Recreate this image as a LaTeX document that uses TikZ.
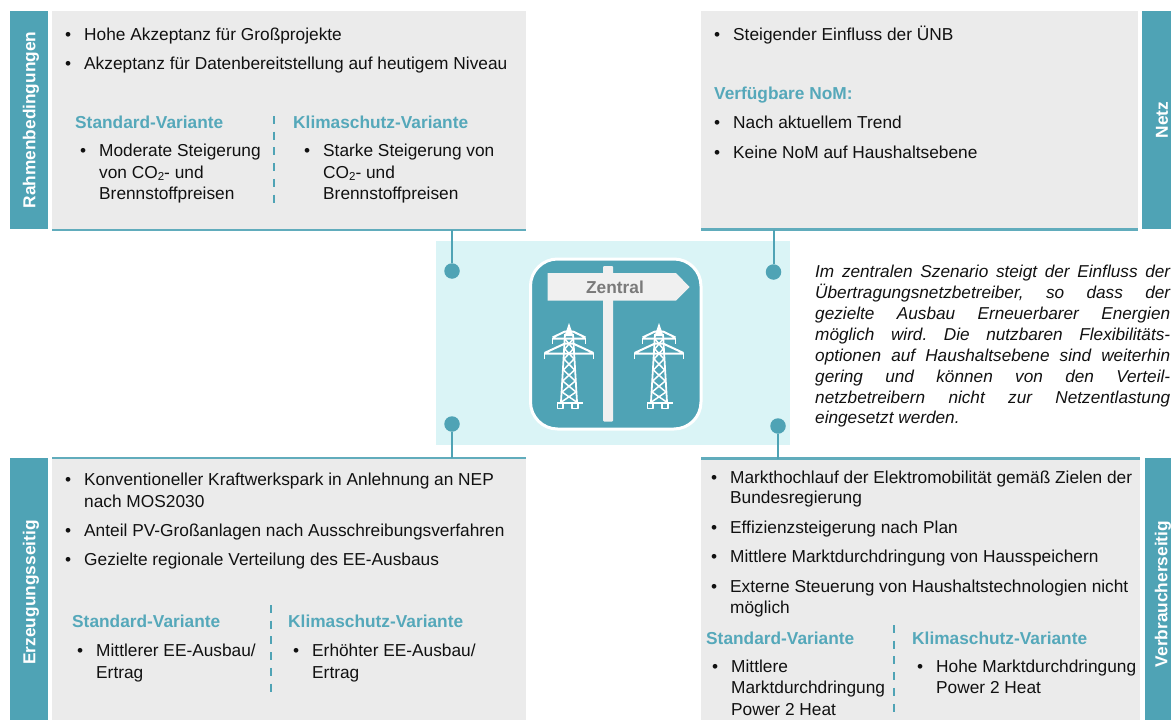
\documentclass[tikz,border=0pt]{standalone}
\usepackage{fontspec}
\setmainfont{Liberation Sans}
\frenchspacing
\definecolor{teal1}{HTML}{4FA3B5}
\definecolor{head1}{HTML}{55A8BA}
\definecolor{panel1}{HTML}{EBEBEB}
\definecolor{centre1}{HTML}{DAF4F6}
\definecolor{sign1}{HTML}{F0F0F0}
\definecolor{txt1}{HTML}{111111}
\tikzset{
  panelbox/.style={fill=panel1,draw=none,anchor=north west,inner sep=0pt,outer sep=0pt},
  tabbox/.style={fill=teal1,draw=none,anchor=north west,inner sep=0pt,outer sep=0pt},
  tablabel/.style={text=white,font=\fontsize{17.3}{20}\selectfont\bfseries,rotate=90,inner sep=0pt},
  body/.style={text=txt1,font=\fontsize{17.3}{20}\selectfont,anchor=base west,inner sep=0pt},
  headline/.style={text=head1,font=\fontsize{17.3}{20}\selectfont\bfseries,anchor=base west,inner sep=0pt},
  rulel/.style={teal1!90!white,line width=2.2pt},
  stem/.style={teal1,line width=2pt},
  dotn/.style={circle,fill=teal1,minimum size=15.5pt,inner sep=0pt,outer sep=0pt},
  divider/.style={teal1,line width=2pt,dash pattern=on 8pt off 7.7pt},
  tower/.style={white,line width=1.5pt,line join=round},
}
\newcommand{\tl}[4][body]{\node[#1] at (#2,#3+6) {#4};}
\newcommand{\bl}[3]{\node[body] at (#1,#2+6) {•};\node[body] at (#1+19,#2+6) {#3};}
\newcommand{\subtwo}{\raisebox{-2.8pt}{\fontsize{11.5}{12}\selectfont 2}}
\newcommand{\towerpic}[1]{%
\begin{scope}[shift={(#1,0)},tower]
 \fill[white] (0,323) -- (-4.5,336) -- (4.5,336) -- cycle;
 \draw[line width=1.8pt] (-4,334) -- (-8,402) (4,334) -- (8,402);
 \draw (-4,339) -- (4.2,349) -- (-5,359) -- (5.6,370) -- (-6.3,381) -- (7,392) -- (-7.6,402)
       (4,339) -- (-4.2,349) -- (5,359) -- (-5.6,370) -- (6.3,381) -- (-7,392) -- (7.6,402);
 \draw[line width=2pt] (-16.5,337.5) -- (-4,331.5) -- (4,331.5) -- (16.5,337.5) (-16.5,338.5) -- (16.5,338.5);
 \draw[line width=1.6pt] (-16.5,337.5) -- (-16.5,343.5) (16.5,337.5) -- (16.5,343.5);
 \draw[line width=2pt] (-24.5,353) -- (-4,343.5) -- (4,343.5) -- (24.5,353) (-24.5,353.5) -- (24.5,353.5);
 \draw[line width=1.6pt] (-24.5,353) -- (-24.5,359) (24.5,353) -- (24.5,359);
 \draw[line width=2pt] (-12,402.5) -- (14,402.5);
 \draw[line width=1.6pt] (-11.5,402) -- (-11.5,408.5) -- (-6,408.5) -- (-6,402) (3,402) -- (3,408.5) -- (9,408.5) -- (9,402);
\end{scope}}
\begin{document}
\begin{tikzpicture}[x=1pt,y=-1pt]
\useasboundingbox (0,0) rectangle (1171,720);
% central band
\node[panelbox,fill=centre1,minimum width=354pt,minimum height=204pt] (centre) at (436,241) {};
% panels
\node[panelbox,minimum width=474pt,minimum height=219pt] (ptl) at (52,11) {};
\node[panelbox,minimum width=437pt,minimum height=218.5pt] (ptr) at (701,11) {};
\node[panelbox,minimum width=474pt,minimum height=262pt] (pbl) at (52,458) {};
\node[panelbox,minimum width=439pt,minimum height=261.5pt] (pbr) at (701,458.5) {};
\draw[rulel] (ptl.south west) -- (ptl.south east);
\draw[rulel] (ptr.south west) -- (ptr.south east);
\draw[rulel] (pbl.north west) -- (pbl.north east);
\draw[rulel] (pbr.north west) -- (pbr.north east);
% tabs
\node[tabbox,minimum width=38pt,minimum height=218pt] (ttl) at (10,11) {};
\node[tabbox,minimum width=29pt,minimum height=218pt] (ttr) at (1142,11) {};
\node[tabbox,minimum width=38pt,minimum height=262pt] (tbl) at (10,458) {};
\node[tabbox,minimum width=26pt,minimum height=262pt] (tbr) at (1145,458) {};
\node[tablabel] (lr) at (31,120) {Rahmenbedingungen};
\node[tablabel] (ln) at (1162,120) {Netz};
\node[tablabel] (le) at (31,592.5) {Erzeugungsseitig};
\node[tablabel] (lv) at (1163,594) {Verbraucherseitig};
% dots and stems
\node[dotn] (d1) at (452,271) {};
\node[dotn] (d2) at (773.5,272) {};
\node[dotn] (d3) at (452,424) {};
\node[dotn] (d4) at (778,426) {};
\draw[stem] (ptl.south -| d1) -- (d1);
\draw[stem] (ptr.south -| d2) -- (d2);
\draw[stem] (pbl.north -| d3) -- (d3);
\draw[stem] (pbr.north -| d4) -- (d4);
% icon
\draw[fill=teal1,draw=white,line width=3pt,rounded corners=27pt] (530.5,259) rectangle (701,429);
\fill[sign1,rounded corners=1pt] (603,266) rectangle (613,421.5);
\fill[sign1] (547.5,273) -- (676,273) -- (689.5,287) -- (676,300.5) -- (547.5,300.5) -- cycle;
\node[text=black!52,font=\fontsize{17.3}{20}\selectfont\bfseries,inner sep=0pt] (zt) at (615,287.5) {Zentral};
\towerpic{569}
\towerpic{659}
% dividers
\draw[divider] (274,116) -- (274,204);
\draw[divider] (271,605) -- (271,695);
\draw[divider] (894,625) -- (894,713);
% top left
\bl{65}{34}{Hohe Akzeptanz für Großprojekte}
\bl{65}{63}{Akzeptanz für Datenbereitstellung auf heutigem Niveau}
\tl[headline]{75}{122}{Standard-Variante}
\tl[headline]{293}{122}{Klimaschutz-Variante}
\bl{80}{150}{Moderate Steigerung}
\tl{99}{172}{von CO\subtwo- und}
\tl{99}{193}{Brennstoffpreisen}
\bl{304}{150}{Starke Steigerung von}
\tl{323}{172}{CO\subtwo- und}
\tl{323}{193}{Brennstoffpreisen}
% top right
\bl{714}{34}{Steigender Einfluss der ÜNB}
\tl[headline]{714}{93}{Verfügbare NoM:}
\bl{714}{122}{Nach aktuellem Trend}
\bl{714}{152}{Keine NoM auf Haushaltsebene}
% bottom left
\bl{65}{479}{Konventioneller Kraftwerkspark in Anlehnung an NEP}
\tl{84}{501}{nach MOS2030}
\bl{65}{530}{Anteil PV-Großanlagen nach Ausschreibungsverfahren}
\bl{65}{559}{Gezielte regionale Verteilung des EE-Ausbaus}
\tl[headline]{72}{621}{Standard-Variante}
\tl[headline]{288}{621}{Klimaschutz-Variante}
\bl{77}{650}{Mittlerer EE-Ausbau/}
\tl{96}{672}{Ertrag}
\bl{293}{650}{Erhöhter EE-Ausbau/}
\tl{312}{672}{Ertrag}
% bottom right
\bl{711}{477}{Markthochlauf der Elektromobilität gemäß Zielen der}
\tl{730}{497}{Bundesregierung}
\bl{711}{527}{Effizienzsteigerung nach Plan}
\bl{711}{556}{Mittlere Marktdurchdringung von Hausspeichern}
\bl{711}{586}{Externe Steuerung von Haushaltstechnologien nicht}
\tl{730}{607}{möglich}
\tl[headline]{706}{638}{Standard-Variante}
\tl[headline]{912}{638}{Klimaschutz-Variante}
\bl{712}{666}{Mittlere}
\tl{731}{687}{Marktdurchdringung}
\tl{731}{709}{Power 2 Heat}
\bl{917}{666}{Hohe Marktdurchdringung}
\tl{936}{687}{Power 2 Heat}
% commentary
\node[anchor=north west,inner sep=0pt,text width=355pt,align=justify,
  font=\fontsize{17.2}{20.9}\selectfont\itshape,text=txt1] (comment) at (815,265) {%
Im zentralen Szenario steigt der Einfluss der\linebreak
Übertragungsnetzbetreiber, so dass der\linebreak
gezielte Ausbau Erneuerbarer Energien\linebreak
möglich wird. Die nutzbaren Flexibilitäts-\linebreak
optionen auf Haushaltsebene sind weiterhin\linebreak
gering und können von den Verteil-\linebreak
netzbetreibern nicht zur Netzentlastung\linebreak
eingesetzt werden.};
\end{tikzpicture}
\end{document}
